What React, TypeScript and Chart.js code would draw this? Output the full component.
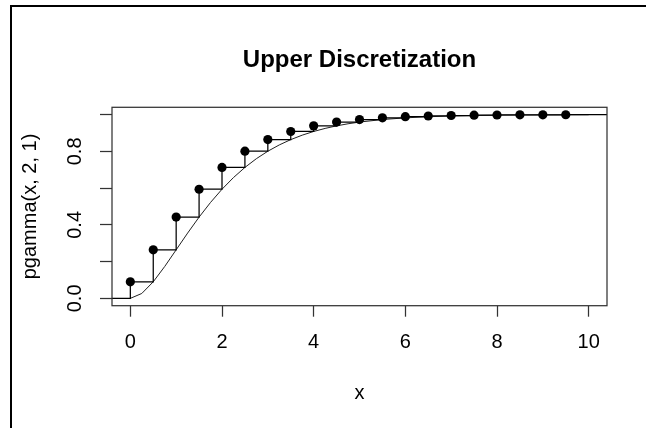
import React, { useEffect, useRef } from "react";
import { Chart, registerables } from "chart.js";

Chart.register(...registerables);

// Axis limits (R default 4% extension)
const xAxisMin = -0.4;
const xAxisMax = 10.4;
const yAxisMin = -0.04;
const yAxisMax = 1.04;

// Tick values and labels
const xTicks = [0, 2, 4, 6, 8, 10];
const xTickLabels = ["0", "2", "4", "6", "8", "10"];
const yTicks = [0, 0.2, 0.4, 0.6, 0.8, 1.0];
const yTickLabels = ["0.0", "", "0.4", "", "0.8", ""];

// Smooth curve pgamma(x, 2, 1)
const curveX = [
  0, 0.25, 0.5, 0.75, 1, 1.25, 1.5, 1.75, 2, 2.25, 2.5, 2.75, 3, 3.25, 3.5,
  3.75, 4, 4.25, 4.5, 4.75, 5, 5.5, 6, 6.5, 7, 7.5, 8, 8.5, 9, 9.5, 10,
];
const curveY = [
  0, 0.0265, 0.0902, 0.1734, 0.2642, 0.3554, 0.4422, 0.5221, 0.594, 0.6575,
  0.7127, 0.7603, 0.8009, 0.8352, 0.8641, 0.8883, 0.9084, 0.9251, 0.9389,
  0.9503, 0.9596, 0.9734, 0.9826, 0.9887, 0.9927, 0.9953, 0.997, 0.9981,
  0.9988, 0.9992, 0.9995,
];

// Upper discretization points
const pointX = [
  0, 0.5, 1, 1.5, 2, 2.5, 3, 3.5, 4, 4.5, 5, 5.5, 6, 6.5, 7, 7.5, 8, 8.5, 9,
  9.5,
];
const pointY = [
  0.0902, 0.2642, 0.4422, 0.594, 0.7127, 0.8009, 0.8641, 0.9084, 0.9389,
  0.9596, 0.9734, 0.9826, 0.9887, 0.9927, 0.9953, 0.997, 0.9981, 0.9988,
  0.9992, 0.9995,
];

const FONT = "'Liberation Sans', Arial, sans-serif";

const framePlugin = {
  id: "frameAndBox",
  beforeDraw(chart: any) {
    const ctx = chart.ctx;
    ctx.save();
    ctx.fillStyle = "#ffffff";
    ctx.fillRect(0, 0, chart.width, chart.height);
    ctx.fillStyle = "#000000";
    ctx.fillRect(10, 5, 2, chart.height - 5);
    ctx.fillRect(10, 5, chart.width - 10, 2);
    ctx.restore();
  },
  afterDraw(chart: any) {
    const { ctx, chartArea } = chart;
    ctx.save();
    ctx.strokeStyle = "#333333";
    ctx.lineWidth = 1.25;
    ctx.strokeRect(
      chartArea.left,
      chartArea.top,
      chartArea.right - chartArea.left,
      chartArea.bottom - chartArea.top
    );
    ctx.restore();
  },
};

export default function App() {
  const canvasRef = useRef<HTMLCanvasElement | null>(null);

  useEffect(() => {
    if (!canvasRef.current) return;
    const stepXs = [xAxisMin, ...pointX, xAxisMax];
    const stepYs = [0, ...pointY, pointY[pointY.length - 1]];

    const chart = new Chart(canvasRef.current, {
      type: "scatter",
      data: {
        datasets: [
          {
            label: "points",
            data: pointX.map((x, i) => ({ x, y: pointY[i] })),
            showLine: false,
            pointRadius: 4.6,
            pointBackgroundColor: "#000000",
            pointBorderWidth: 0,
            pointHoverRadius: 4.6,
          },
          {
            label: "steps",
            data: stepXs.map((x, i) => ({ x, y: stepYs[i] })),
            showLine: true,
            stepped: "before",
            borderColor: "#000000",
            borderWidth: 1.25,
            pointRadius: 0,
            fill: false,
          },
          {
            label: "curve",
            data: curveX.map((x, i) => ({ x, y: curveY[i] })),
            showLine: true,
            borderColor: "#222222",
            borderWidth: 1,
            pointRadius: 0,
            tension: 0,
            fill: false,
          },
        ],
      },
      options: {
        responsive: false,
        devicePixelRatio: 1,
        animation: false,
        events: [],
        layout: { padding: { left: 0, right: 39, top: 0, bottom: 0 } },
        plugins: {
          legend: { display: false },
          tooltip: { enabled: false },
          title: {
            display: true,
            text: "Upper Discretization",
            color: "#000000",
            fullSize: false,
            font: { family: FONT, size: 24, weight: "bold" },
            padding: { top: 45.6, bottom: 32.9 },
          },
        },
        scales: {
          x: {
            type: "linear",
            min: xAxisMin,
            max: xAxisMax,
            afterBuildTicks: (scale: any) => {
              scale.ticks = xTicks.map((v) => ({ value: v }));
            },
            afterFit: (scale: any) => {
              scale.height = 122.3;
            },
            grid: {
              display: true,
              drawOnChartArea: false,
              drawTicks: true,
              tickLength: 11,
              tickColor: "#333333",
              tickWidth: 1.25,
            },
            border: { display: false },
            ticks: {
              color: "#000000",
              font: { family: FONT, size: 20 },
              padding: 14,
              autoSkip: false,
              maxRotation: 0,
              callback: (_v: any, i: number) => xTickLabels[i],
            },
            title: {
              display: true,
              text: "x",
              color: "#000000",
              font: { family: FONT, size: 20 },
              padding: { top: 0, bottom: 23 },
            },
          },
          y: {
            type: "linear",
            min: yAxisMin,
            max: yAxisMax,
            afterBuildTicks: (scale: any) => {
              scale.ticks = yTicks.map((v) => ({ value: v }));
            },
            afterFit: (scale: any) => {
              scale.width = 112;
            },
            grid: {
              display: true,
              drawOnChartArea: false,
              drawTicks: true,
              tickLength: 12,
              tickColor: "#333333",
              tickWidth: 1.25,
            },
            border: { display: false },
            ticks: {
              color: "#000000",
              font: { family: FONT, size: 20 },
              padding: 11,
              autoSkip: false,
              minRotation: 90,
              maxRotation: 90,
              crossAlign: "center",
              callback: (_v: any, i: number) => yTickLabels[i],
            },
            title: {
              display: true,
              text: "pgamma(x, 2, 1)",
              color: "#000000",
              font: { family: FONT, size: 20 },
              padding: { top: 18, bottom: 0 },
            },
          },
        },
      },
      plugins: [framePlugin],
    } as any);

    return () => {
      chart.destroy();
    };
  }, []);

  return (
    <div
      style={{
        position: "fixed",
        left: 0,
        top: 0,
        width: 646,
        height: 428,
        background: "#ffffff",
      }}
    >
      <canvas ref={canvasRef} width={646} height={428} />
    </div>
  );
}
